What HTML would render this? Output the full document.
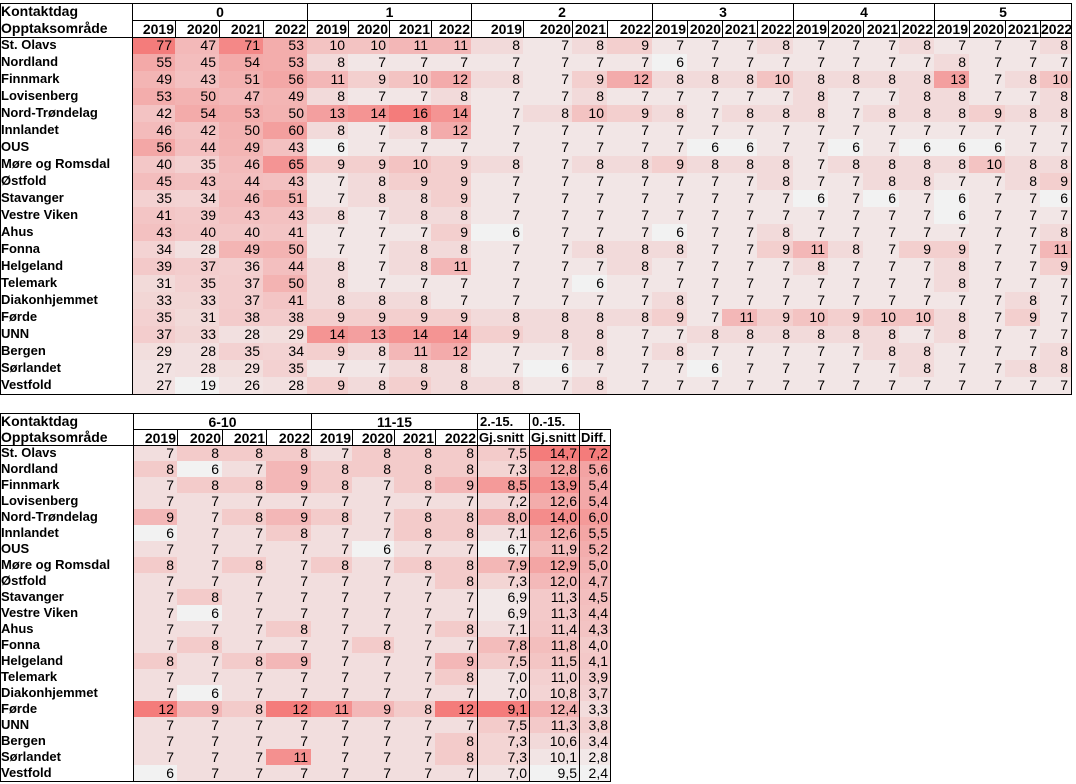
<!DOCTYPE html>
<html><head><meta charset="utf-8">
<style>
body{margin:0;background:#fff;width:1076px;height:784px;position:relative;overflow:hidden;font-family:"Liberation Sans",sans-serif;font-size:13px;color:#000}
.c{position:absolute;box-sizing:border-box;line-height:16px;white-space:nowrap;overflow:hidden}
.h{font-weight:bold}
.b{border:1px solid #000}
.n{text-align:right;padding-right:3px;font-size:14px}
.ln{position:absolute;background:#000}
</style></head><body>
<div id="root"></div>
<script>
const regions=["St. Olavs","Nordland","Finnmark","Lovisenberg","Nord-Trøndelag","Innlandet","OUS","Møre og Romsdal","Østfold","Stavanger","Vestre Viken","Ahus","Fonna","Helgeland","Telemark","Diakonhjemmet","Førde","UNN","Bergen","Sørlandet","Vestfold"];
const years=["2019","2020","2021","2022"];
const topGroups=["0","1","2","3","4","5"];
const day0=[[77,47,71,53],[55,45,54,53],[49,43,51,56],[53,50,47,49],[42,54,53,50],[46,42,50,60],[56,44,49,43],[40,35,46,65],[45,43,44,43],[35,34,46,51],[41,39,43,43],[43,40,40,41],[34,28,49,50],[39,37,36,44],[31,35,37,50],[33,33,37,41],[35,31,38,38],[37,33,28,29],[29,28,35,34],[27,28,29,35],[27,19,26,28]];
const day1to5=[
[10,10,11,11, 8,7,8,9, 7,7,7,8, 7,7,7,8, 7,7,7,8],
[8,7,7,7, 7,7,7,7, 6,7,7,7, 7,7,7,7, 8,7,7,7],
[11,9,10,12, 8,7,9,12, 8,8,8,10, 8,8,8,8, 13,7,8,10],
[8,7,7,8, 7,7,8,7, 7,7,7,7, 8,7,7,8, 8,7,7,8],
[13,14,16,14, 7,8,10,9, 8,7,8,8, 8,7,8,8, 8,9,8,8],
[8,7,8,12, 7,7,7,7, 7,7,7,7, 7,7,7,7, 7,7,7,7],
[6,7,7,7, 7,7,7,7, 7,6,6,7, 7,6,7,6, 6,6,7,7],
[9,9,10,9, 8,7,8,8, 9,8,8,8, 7,8,8,8, 8,10,8,8],
[7,8,9,9, 7,7,7,7, 7,7,7,8, 7,7,8,8, 7,7,8,9],
[7,8,8,9, 7,7,7,7, 7,7,7,7, 6,7,6,7, 6,7,7,6],
[8,7,8,8, 7,7,7,7, 7,7,7,7, 7,7,7,7, 6,7,7,7],
[7,7,7,9, 6,7,7,7, 6,7,7,8, 7,7,7,7, 7,7,7,8],
[7,7,8,8, 7,7,8,8, 8,7,7,9, 11,8,7,9, 9,7,7,11],
[8,7,8,11, 7,7,7,8, 7,7,7,7, 8,7,7,7, 8,7,7,9],
[8,7,7,7, 7,7,6,7, 7,7,7,7, 7,7,7,7, 8,7,7,7],
[8,8,8,7, 7,7,7,7, 8,7,7,7, 7,7,7,7, 7,7,8,7],
[9,9,9,9, 8,8,8,8, 9,7,11,9, 10,9,10,10, 8,7,9,7],
[14,13,14,14, 9,8,8,7, 7,8,8,8, 8,8,8,7, 8,7,7,7],
[9,8,11,12, 7,7,8,7, 8,7,7,7, 7,7,8,8, 7,7,7,8],
[7,7,8,8, 7,6,7,7, 7,6,7,7, 7,7,7,8, 7,7,8,8],
[9,8,9,8, 8,7,8,7, 7,7,7,7, 7,7,7,7, 7,7,7,7]];
const day6to15=[[7,8,8,8,7,8,8,8],[8,6,7,9,8,8,8,8],[7,8,8,9,8,7,8,9],[7,7,7,7,7,7,7,7],[9,7,8,9,8,7,8,8],[6,7,7,8,7,7,8,8],[7,7,7,7,7,6,7,7],[8,7,8,7,8,7,8,8],[7,7,7,7,7,7,7,8],[7,8,7,7,7,7,7,7],[7,6,7,7,7,7,7,7],[7,7,7,8,7,7,7,8],[7,8,7,7,7,8,7,7],[8,7,8,9,7,7,7,9],[7,7,7,7,7,7,7,8],[7,6,7,7,7,7,7,7],[12,9,8,12,11,9,8,12],[7,7,7,7,7,7,7,7],[7,7,7,7,7,7,7,8],[7,7,7,11,7,7,7,8],[6,7,7,7,7,7,7,7]];
const avg2to15=[7.5,7.3,8.5,7.2,8.0,7.1,6.7,7.9,7.3,6.9,6.9,7.1,7.8,7.5,7.0,7.0,9.1,7.5,7.3,7.3,7.0];
const avg0to15=[14.7,12.8,13.9,12.6,14.0,12.6,11.9,12.9,12.0,11.3,11.3,11.4,11.8,11.5,11.0,10.8,12.4,11.3,10.6,10.1,9.5];
const diffs=[7.2,5.6,5.4,5.4,6.0,5.5,5.2,5.0,4.7,4.5,4.4,4.3,4.0,4.1,3.9,3.7,3.3,3.8,3.4,2.8,2.4];

const root=document.getElementById('root');
function mk(x,y,w,h,cls,txt){const d=document.createElement('div');d.className='c '+cls;d.style.left=x+'px';d.style.top=y+'px';d.style.width=w+'px';d.style.height=h+'px';if(txt!==undefined)d.textContent=txt;root.appendChild(d);return d;}
function line(x,y,w,h){const d=document.createElement('div');d.className='ln';d.style.left=x+'px';d.style.top=y+'px';d.style.width=w+'px';d.style.height=h+'px';


root.appendChild(d);}
function color(v,mn,mx){const t=mx>mn?(v-mn)/(mx-mn):0;const r=Math.round(242+t*(244-242)),g=Math.round(242+t*(124-242)),b=Math.round(242+t*(123-242));return `rgb(${r},${g},${b})`;}
function fmt(v,dec){return dec?v.toFixed(1).replace('.',','):String(v);}

// ---- TOP TABLE ----
const tx=[132,175,219,263,307,348,389,431,471,523,572,607,652,687,722,757,793,828,863,899,934,969,1005,1040,1071];
const tY0=3,tRH=17,tD=37;
let e;
e=mk(1,tY0,131,17,'h','Kontaktdag');e.style.fontSize='14px';


e=mk(1,tY0+17,131,17,'h','Opptaksområde');e.style.fontSize='14px';


topGroups.forEach((g,gi)=>{
  e=mk(tx[gi*4],tY0,tx[gi*4+4]-tx[gi*4]+1,18,'h b',g);e.style.textAlign='center';e.style.fontSize='14px';
  
  
  years.forEach((y,yi)=>{const i=gi*4+yi;
    e=mk(tx[i],tY0+17,tx[i+1]-tx[i]+1,18,'h b n',y);e.style.paddingRight='1px';
    
    
  });
});
const d0min=Math.min(...day0.flat()),d0max=Math.max(...day0.flat());
const d1min=Math.min(...day1to5.flat()),d1max=Math.max(...day1to5.flat());
regions.forEach((r,ri)=>{
  const y=tD+ri*tRH;
  e=mk(1,y,131,tRH,'h',r);
  
  
  const vals=day0[ri].concat(day1to5[ri]);
  vals.forEach((v,ci)=>{
    e=mk(tx[ci],y,tx[ci+1]-tx[ci],tRH,'n',fmt(v));
    e.style.background=ci<4?color(v,d0min,d0max):color(v,d1min,d1max);
    
    
  });
});
const tBot=tD+regions.length*tRH;
line(0,tY0,1072,1);line(0,tBot,1072,1);line(0,tY0,1,tBot-tY0+1);line(1071,tY0,1,tBot-tY0+1);
line(132,tY0,1,tBot-tY0);line(0,tD,1072,1);

// ---- BOTTOM TABLE ----
const bx=[133,177,222,266,311,352,394,435,477,529,579,610];
const bY0=413,bRH=16,bD=445;
e=mk(1,bY0,132,16,'h','Kontaktdag');e.style.fontSize='14px';


e=mk(1,bY0+16,132,16,'h','Opptaksområde');e.style.fontSize='14px';


const bGroups=[["6-10",0,4],["11-15",4,8]];
bGroups.forEach(([g,a,b])=>{e=mk(bx[a],bY0,bx[b]-bx[a]+1,17,'h b',g);e.style.textAlign='center';e.style.fontSize='14px';
  
  
  for(let i=a;i<b;i++){e=mk(bx[i],bY0+16,bx[i+1]-bx[i]+1,17,'h b n',years[i-a]);e.style.paddingRight='1px';
    
    }
});
e=mk(bx[8],bY0,bx[9]-bx[8]+1,17,'h b','2.-15.');e.style.paddingLeft='2px';


e=mk(bx[9],bY0,bx[10]-bx[9]+1,17,'h b','0.-15.');e.style.paddingLeft='2px';


["Gj.snitt","Gj.snitt","Diff."].forEach((t,k)=>{const i=8+k;e=mk(bx[i],bY0+16,bx[i+1]-bx[i]+1,17,'h b',t);e.style.paddingLeft='1px';
  
  });
const mmin=Math.min(...day6to15.flat()),mmax=Math.max(...day6to15.flat());
const aMin=Math.min(...avg2to15),aMax=Math.max(...avg2to15);
const bMin=Math.min(...avg0to15),bMax=Math.max(...avg0to15);
const cMin=Math.min(...diffs),cMax=Math.max(...diffs);
regions.forEach((r,ri)=>{
  const y=bD+ri*bRH;
  e=mk(1,y,132,bRH,'h',r);
  
  
  day6to15[ri].forEach((v,ci)=>{
    e=mk(bx[ci],y,bx[ci+1]-bx[ci],bRH,'n',fmt(v));
    e.style.background=color(v,mmin,mmax);
    
    
  });
  [[avg2to15[ri],aMin,aMax],[avg0to15[ri],bMin,bMax],[diffs[ri],cMin,cMax]].forEach(([v,mn,mx],k)=>{
    const i=8+k;
    e=mk(bx[i],y,bx[i+1]-bx[i],bRH,'n',fmt(v,1));
    e.style.background=color(v,mn,mx);
    e.style.paddingRight='2px';
    
    
  });
});
const bBot=bD+regions.length*bRH;
line(0,bY0,bx[10]+1,1);line(0,bBot,611,1);line(0,bY0,1,bBot-bY0+1);line(610,bY0+16,1,bBot-bY0-15);
line(133,bY0,1,bBot-bY0);line(0,bD,611,1);
line(477,bY0,1,bBot-bY0);line(529,bY0,1,bBot-bY0);line(579,bY0,1,bBot-bY0);
</script>
</body></html>
